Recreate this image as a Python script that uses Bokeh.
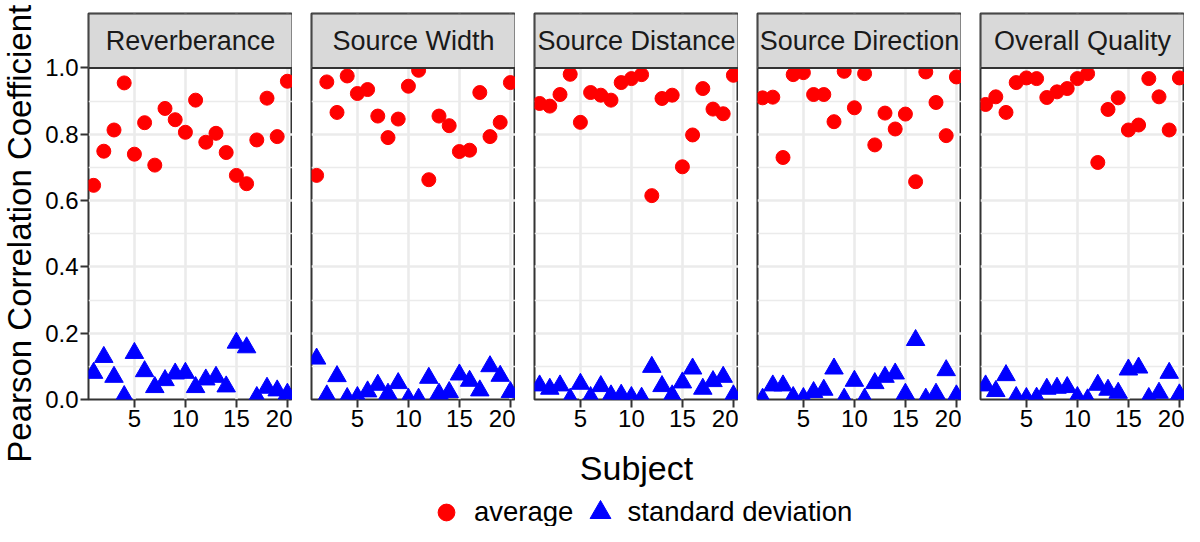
import math
from bokeh.plotting import figure
from bokeh.layouts import row, column
from bokeh.models import (Range1d, FixedTicker, BoxAnnotation, Label, Legend,
                          LegendItem, PrintfTickFormatter, Grid)
from bokeh.embed import file_html
from bokeh.resources import INLINE

# ---------------- data ----------------
subjects = list(range(1, 21))
panel_titles = ["Reverberance", "Source Width", "Source Distance",
                "Source Direction", "Overall Quality"]

avg_reverberance = [0.646, 0.749, 0.813, 0.955, 0.740, 0.835, 0.707, 0.878, 0.844, 0.806,
                    0.903, 0.776, 0.803, 0.745, 0.676, 0.651, 0.783, 0.909, 0.793, 0.960]
std_reverberance = [0.080, 0.128, 0.068, 0.010, 0.140, 0.085, 0.037, 0.058, 0.078, 0.080,
                    0.037, 0.060, 0.068, 0.039, 0.171, 0.157, 0.007, 0.035, 0.027, 0.017]

avg_source_width = [0.676, 0.958, 0.866, 0.976, 0.923, 0.935, 0.855, 0.790, 0.846, 0.945,
                    0.993, 0.663, 0.855, 0.826, 0.748, 0.752, 0.926, 0.793, 0.836, 0.956]
std_source_width = [0.123, 0.012, 0.070, 0.004, 0.007, 0.024, 0.044, 0.017, 0.049, 0.002,
                    0.002, 0.065, 0.017, 0.022, 0.075, 0.056, 0.027, 0.100, 0.071, 0.022]

avg_source_distance = [0.893, 0.885, 0.920, 0.981, 0.836, 0.926, 0.918, 0.903, 0.956, 0.968,
                       0.980, 0.615, 0.908, 0.918, 0.702, 0.798, 0.938, 0.876, 0.862, 0.978]
std_source_distance = [0.042, 0.032, 0.042, 0.002, 0.047, 0.007, 0.040, 0.012, 0.014, 0.007,
                       0.005, 0.098, 0.040, 0.012, 0.051, 0.093, 0.032, 0.055, 0.068, 0.012]

avg_source_direction = [0.910, 0.912, 0.730, 0.980, 0.986, 0.920, 0.920, 0.838, 0.990, 0.880,
                        0.983, 0.768, 0.864, 0.816, 0.861, 0.657, 0.988, 0.896, 0.796, 0.973]
std_source_direction = [0.002, 0.042, 0.042, 0.007, 0.004, 0.022, 0.029, 0.093, 0.002, 0.056,
                        0.002, 0.049, 0.068, 0.078, 0.017, 0.179, 0.002, 0.017, 0.088, 0.012]

avg_overall_quality = [0.890, 0.913, 0.866, 0.956, 0.970, 0.968, 0.911, 0.928, 0.938, 0.968,
                       0.983, 0.715, 0.875, 0.910, 0.813, 0.828, 0.968, 0.913, 0.813, 0.970]
std_overall_quality = [0.042, 0.025, 0.073, 0.007, 0.004, 0.005, 0.032, 0.035, 0.037, 0.007,
                       0.000, 0.044, 0.029, 0.020, 0.090, 0.096, 0.004, 0.020, 0.080, 0.015]

avg_series = [avg_reverberance, avg_source_width, avg_source_distance,
              avg_source_direction, avg_overall_quality]
std_series = [std_reverberance, std_source_width, std_source_distance,
              std_source_direction, std_overall_quality]

x_ticks = [5, 10, 15, 20]
y_ticks = [0.0, 0.2, 0.4, 0.6, 0.8, 1.0]
y_minor = [0.1, 0.3, 0.5, 0.7, 0.9]
legend_labels = ["average", "standard deviation"]
y_title = "Pearson Correlation Coefficient"
x_title = "Subject"

# ---------------- style / layout ----------------
FONT = "Liberation Sans"
RED = "#FF0000"
BLUE = "#0000FF"
BORDER = "#333333"
GRID = "#EBEBEB"
TOTAL_W, TOTAL_H = 1184, 526
TITLE_W = 38
FRAME_W, FRAME_H = 204, 386
GAP = 19
TOP = 13
AXIS_H = 40
Y_TOP = 1.1644          # data area 0..1, facet strip above it
X_LO, X_HI = 0.5, 20.5
ROW_H = TOP + FRAME_H + AXIS_H
BOTTOM_H = TOTAL_H - ROW_H
NAN = float("nan")


def style_axis(ax):
    ax.axis_line_color = None
    ax.major_tick_out = 8
    ax.major_tick_in = 0
    ax.major_tick_line_width = 2
    ax.major_tick_line_color = BORDER
    ax.minor_tick_line_color = None
    ax.major_label_text_font = FONT
    ax.major_label_text_font_size = "24px"
    ax.major_label_text_color = "black"
    ax.major_label_standoff = 2


figs = []
for i, (title, avg, sd) in enumerate(zip(panel_titles, avg_series, std_series)):
    first = i == 0
    p = figure(frame_width=FRAME_W, frame_height=FRAME_H,
               x_range=Range1d(X_LO, X_HI), y_range=Range1d(0, Y_TOP),
               y_axis_location="left" if first else None,
               output_backend="svg", toolbar_location=None,
               min_border_left=(88 - TITLE_W) if first else GAP, min_border_right=0,
               min_border_top=TOP, min_border_bottom=AXIS_H,
               background_fill_color="white", border_fill_color="white")
    p.grid.visible = False
    p.outline_line_color = BORDER
    p.outline_line_width = 2

    p.add_layout(Grid(dimension=0, ticker=FixedTicker(ticks=x_ticks),
                      grid_line_color=GRID, grid_line_width=2.6))
    p.add_layout(Grid(dimension=1, ticker=FixedTicker(ticks=y_ticks, minor_ticks=y_minor),
                      grid_line_color=GRID, grid_line_width=2.6,
                      minor_grid_line_color=GRID, minor_grid_line_width=1.3))

    p.scatter(subjects, avg, marker="circle", size=14, color=RED)
    p.scatter(subjects, sd, marker="triangle", size=18.5, color=BLUE)

    # facet strip
    p.add_layout(BoxAnnotation(bottom=1.0, fill_color="#D9D9D9", fill_alpha=1,
                               line_color=BORDER, line_width=2, line_alpha=1))
    p.add_layout(Label(x=(X_LO + X_HI) / 2, y=(1 + Y_TOP) / 2, text=title,
                       text_align="center", text_baseline="middle",
                       text_font=FONT, text_font_size="27px", text_color="#1A1A1A"))

    p.xaxis.ticker = FixedTicker(ticks=x_ticks)
    style_axis(p.xaxis[0])
    if first:
        p.yaxis.ticker = FixedTicker(ticks=y_ticks)
        p.yaxis.formatter = PrintfTickFormatter(format="%.1f")
        style_axis(p.yaxis[0])
    figs.append(p)

# ---------------- left: y title ----------------
tf = figure(width=TITLE_W, height=TOTAL_H, x_range=Range1d(0, TITLE_W),
            y_range=Range1d(0, TOTAL_H), x_axis_location=None, y_axis_location=None,
            toolbar_location=None, output_backend="svg", min_border=0,
            outline_line_color=None)
tf.grid.visible = False
panel_mid = TOP + FRAME_H - FRAME_H / Y_TOP / 2
tf.add_layout(Label(x=19, y=TOTAL_H - panel_mid, angle=math.pi / 2, text=y_title,
                    text_align="center", text_baseline="middle",
                    text_font=FONT, text_font_size="33px", text_color="black"))

# ---------------- bottom: x title + legend ----------------
BW = TOTAL_W - TITLE_W
bf = figure(width=BW, height=BOTTOM_H, x_range=Range1d(0, BW), y_range=Range1d(0, BOTTOM_H),
            x_axis_location=None, y_axis_location=None, toolbar_location=None,
            output_backend="svg", min_border=0, outline_line_color=None)
bf.grid.visible = False
panels_mid = (88 + TOTAL_W) / 2 - TITLE_W
bf.add_layout(Label(x=panels_mid, y=BOTTOM_H - 28, text=x_title, text_align="center",
                    text_baseline="alphabetic", text_font=FONT,
                    text_font_size="34px", text_color="black"))
r1 = bf.scatter(x=[NAN], y=[NAN], marker="circle", color=RED)
r2 = bf.scatter(x=[NAN], y=[NAN], marker="triangle", color=BLUE)

common = dict(orientation="horizontal", padding=0, margin=0, spacing=0,
              border_line_color=None, background_fill_alpha=0,
              label_text_font=FONT, label_text_font_size="27.5px", label_text_color="black")
leg_mid = 14
leg1 = Legend(items=[LegendItem(label=legend_labels[0], renderers=[r1])],
              location=(446 - TITLE_W - 21, leg_mid - 21), glyph_width=42, glyph_height=42,
              label_standoff=7, **common)
leg2 = Legend(items=[LegendItem(label=legend_labels[1], renderers=[r2])],
              location=(599.5 - TITLE_W - 26, leg_mid - 26), glyph_width=52, glyph_height=52,
              label_standoff=2, **common)
bf.add_layout(leg1)
bf.add_layout(leg2)

layout = row(tf, column(row(*figs), bf))
open("out.html", "w").write(file_html(layout, INLINE))
